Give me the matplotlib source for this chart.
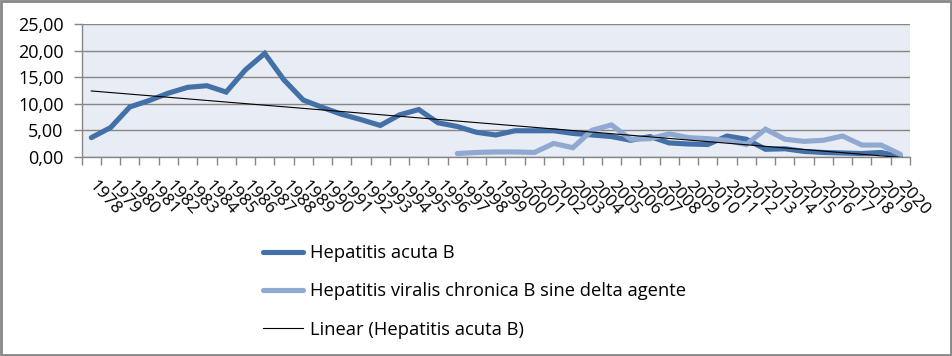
import matplotlib
matplotlib.use("Agg")
import matplotlib.pyplot as plt
import numpy as np
from matplotlib.lines import Line2D
from matplotlib.patches import Rectangle

plt.rcParams['font.family'] = ['Open Sans', 'DejaVu Sans']

years = list(range(1978, 2021))
acute_b = [3.6, 5.5, 9.4, 10.6, 12.0, 13.1, 13.4, 12.2, 16.4, 19.5,
           14.5, 10.7, 9.3, 8.0, 7.0, 5.9, 7.9, 8.9, 6.4, 5.7,
           4.6, 4.1, 4.9, 4.9, 4.9, 4.4, 4.1, 3.8, 3.1, 3.8,
           2.6, 2.4, 2.3, 3.9, 3.3, 1.4, 1.5, 1.0, 0.8, 0.7,
           0.6, 0.8, 0.05]
chronic_years = list(range(1997, 2021))
chronic_b = [0.6, 0.8, 0.9, 0.9, 0.8, 2.5, 1.7, 5.0, 6.0, 3.3,
             3.4, 4.3, 3.6, 3.4, 3.1, 2.3, 5.2, 3.3, 2.9, 3.1,
             3.9, 2.2, 2.2, 0.45]
y_ticks = [0, 5, 10, 15, 20, 25]
labels = ["Hepatitis acuta B",
          "Hepatitis viralis chronica B sine delta agente",
          "Linear (Hepatitis acuta B)"]

W, H = 952, 356
fig = plt.figure(figsize=(W / 100, H / 100), dpi=100)
ax = fig.add_axes([81.7 / W, 1 - 156.7 / H, (910 - 81.7) / W, (156.7 - 24.3) / H])

dark = '#4470A8'
light = '#8FA9D1'
grid = '#868686'

x = np.arange(len(years))
xc = np.array([years.index(y) for y in chronic_years])

ax.set_facecolor('#E8ECF4')
ax.plot(x, acute_b, color=dark, lw=3.7, solid_capstyle='round', solid_joinstyle='miter', zorder=3)
ax.plot(xc, chronic_b, color=light, lw=3.7, solid_capstyle='round', solid_joinstyle='miter', zorder=4)
coef = np.polyfit(x, acute_b, 1)
ax.plot(x, np.polyval(coef, x), color='black', lw=0.8, zorder=5)

ax.set_xlim(-0.5, len(years) - 0.5)
ax.set_ylim(0, 25)
ax.set_yticks(y_ticks)
ax.set_yticklabels([f"{v:.2f}".replace('.', ',') for v in y_ticks], fontsize=13)
ax.yaxis.grid(True, color=grid, lw=1.0)
ax.set_axisbelow(True)

ax.set_xticks(x)
ax.set_xticklabels([str(y) for y in years], fontsize=12.5, rotation=-48,
                   ha='left', va='center', rotation_mode='anchor')
ax.set_xticks(np.arange(-0.5, len(years)), minor=True)
ax.tick_params(axis='x', which='major', length=0, pad=19)
ax.tick_params(axis='x', which='minor', length=5.5, color=grid, width=1.0)
ax.tick_params(axis='y', length=6, color=grid, width=1.0, pad=7)

for s in ['top', 'right']:
    ax.spines[s].set_visible(False)
for s in ['left', 'bottom']:
    ax.spines[s].set_color(grid)
    ax.spines[s].set_linewidth(1.0)

handles = [Line2D([], [], color=dark, lw=3.7, solid_capstyle='round'),
           Line2D([], [], color=light, lw=3.7, solid_capstyle='round'),
           Line2D([], [], color='black', lw=0.8)]
fig.legend(handles, labels, loc='center left',
           bbox_to_anchor=(263 / W, 1 - 291.5 / H), frameon=False,
           fontsize=13.2, handlelength=2.2, handletextpad=0.35,
           labelspacing=1.1, borderpad=0, borderaxespad=0)

# chart border
fig.patches.append(Rectangle((1 / W, 1 - 354.5 / H), 949.5 / W, 353.5 / H,
                             transform=fig.transFigure, fill=False,
                             edgecolor='#888888', lw=2.0))

fig.savefig('out.png', dpi=100)
